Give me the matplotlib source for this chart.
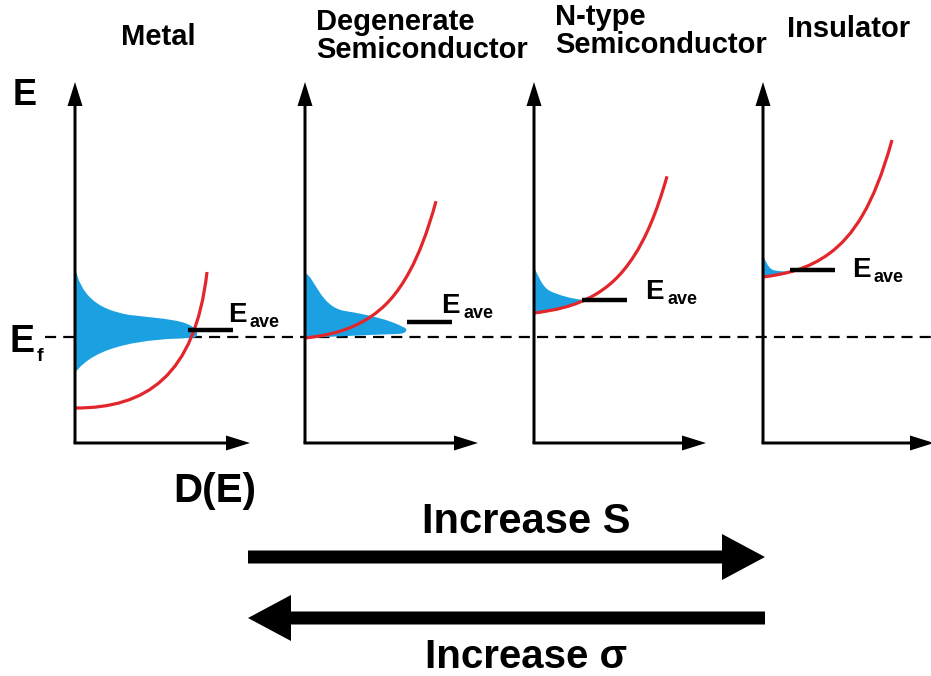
import matplotlib
matplotlib.use('Agg')
import matplotlib.pyplot as plt
from matplotlib.path import Path
from matplotlib.patches import PathPatch

W, H = 931, 676
FONT = 'Liberation Sans'

# ---------------- data (panel-local: D to the right, E upward from Ef) ----------------
titles = ['Metal', 'Degenerate\nSemiconductor', 'N-type\nSemiconductor', 'Insulator']
title_x = [158, 316, 555, 787]
title_ha = ['center', 'left', 'left', 'left']
title_base = [45, 58, 53, 37]

axis_x = [75, 305, 534, 763]          # position of each E axis
xaxis_tip = [250, 478, 706, 934]

# density of states (blue) outlines, cubic Bezier control points
blue_metal = [(0, 69), (6, 45), (18, 28), (55, 22), (90, 18), (112, 17), (120, 8),
              (124, 3), (122, -1), (117, -1), (70, -2), (20, -8), (0, -36)]
blue_degen = [(0, 64), (10, 60), (15, 30), (40, 26), (65, 22), (85, 17), (98, 10),
              (104, 8), (102, 3), (92, 3), (60, 2), (20, 0), (0, -1)]
blue_ntype = [(0, 70), (4, 62), (8, 50), (16, 46), (24, 42), (38, 38), (50, 37),
              (30, 30), (12, 24), (0, 23)]
blue_insul = [(0, 82), (2, 77), (5, 69), (10, 67), (16, 65.5), (22, 65.5), (28, 65.5),
              (15, 62), (5, 60), (0, 59)]
blue_shapes = [blue_metal, blue_degen, blue_ntype, blue_insul]

# band (red) curves, cubic Bezier control points
red_metal = [(1, -71), (70, -71), (120, -40), (132, 65)]
red_degen = [(0, -1), (21.7, 1.6), (43.3, 5.5), (65, 19.8), (78.3, 28.6), (91.7, 41.4),
             (105, 66.4), (113.7, 82.6), (122.3, 103.9), (131, 135.8)]
red_ntype = [(0, 24), (20, 26.6), (40, 30.3), (60, 41.7), (73.3, 49.3), (86.7, 60.3),
             (100, 81), (111, 98.1), (122, 121.8), (133, 160.7)]
red_insul = [(0, 60), (22.3, 63.0), (44.7, 67.4), (67, 84), (78, 92.2), (89, 103.6),
             (100, 122.6), (109.7, 139.3), (119.3, 162), (129, 197)]
red_curves = [red_metal, red_degen, red_ntype, red_insul]

# average energy marks: (D start, D end, E)
eave_marks = [(113, 158, 7), (102, 147, 15), (48, 93, 37), (27, 72, 67)]
eave_label_x = [228, 441, 645, 852]
eave_label_base = [322, 313, 299, 277]

EF_Y = 337           # pixel row of the Fermi level
AXIS_BOTTOM = 443
AXIS_TOP = 82

BLUE = '#1BA1E2'
RED = '#E3262B'

fig = plt.figure(figsize=(W / 100, H / 100), dpi=100)
ax = fig.add_axes([0, 0, 1, 1])
ax.set_xlim(0, W)
ax.set_ylim(H, 0)
ax.axis('off')


def to_px(pts, x0):
    return [(x0 + d, EF_Y - e) for d, e in pts]


def bezier_codes(n, closed=False):
    codes = [Path.MOVETO] + [Path.CURVE4] * (n - 1)
    if closed:
        codes += [Path.CLOSEPOLY]
    return codes


# Fermi level
ax.plot([45, W], [EF_Y, EF_Y], color='black', lw=1.6, ls=(0, (5, 3.2)), zorder=1)

for i in range(4):
    x0 = axis_x[i]
    # blue DOS
    pts = to_px(blue_shapes[i], x0)
    verts = pts + [pts[0]]
    path = Path(verts, bezier_codes(len(pts), closed=True))
    ax.add_patch(PathPatch(path, facecolor=BLUE, edgecolor='none', zorder=2))
    # red band
    rp = to_px(red_curves[i], x0)
    ax.add_patch(PathPatch(Path(rp, bezier_codes(len(rp))), facecolor='none',
                           edgecolor=RED, lw=2.3, zorder=3, capstyle='butt'))
    # axes arrows
    ax.arrow(x0, AXIS_BOTTOM, 0, AXIS_TOP - AXIS_BOTTOM, width=3, head_width=15,
             head_length=24, length_includes_head=True, fc='black', ec='none', zorder=4)
    ax.arrow(x0 - 1.5, AXIS_BOTTOM, xaxis_tip[i] - x0 + 1.5, 0, width=3, head_width=15,
             head_length=24, length_includes_head=True, fc='black', ec='none', zorder=4)
    # Eave mark
    d0, d1, e = eave_marks[i]
    ax.plot([x0 + d0, x0 + d1], [EF_Y - e, EF_Y - e], color='black', lw=3.2,
            solid_capstyle='butt', zorder=5)
    ax.text(eave_label_x[i], eave_label_base[i], 'E', fontsize=20, fontweight='bold',
            family=FONT, ha='left', va='baseline')
    ax.text(eave_label_x[i] + 22, eave_label_base[i] + 5, 'ave', fontsize=13,
            fontweight='bold', family=FONT, ha='left', va='baseline')
    # title
    lines = titles[i].split('\n')
    for k, ln in enumerate(lines):
        yb = title_base[i] - (len(lines) - 1 - k) * 28
        ax.text(title_x[i], yb, ln, fontsize=21, fontweight='bold', family=FONT,
                ha=title_ha[i], va='baseline')

# axis labels
ax.text(13, 105, 'E', fontsize=26, fontweight='bold', family=FONT, ha='left', va='baseline')
ax.text(9, 352, 'E', fontsize=27, fontweight='bold', family=FONT, ha='left', va='baseline')
ax.text(37, 361, 'f', fontsize=14, fontweight='bold', family=FONT, ha='left', va='baseline')
ax.text(215, 502, 'D(E)', fontsize=29, fontweight='bold', family=FONT, ha='center', va='baseline')

# trend arrows
ax.text(526, 533, 'Increase S', fontsize=30, fontweight='bold', family=FONT,
        ha='center', va='baseline')
ax.arrow(248, 557, 517, 0, width=13, head_width=46, head_length=43,
         length_includes_head=True, fc='black', ec='none')
ax.arrow(765, 618, -517, 0, width=13, head_width=46, head_length=43,
         length_includes_head=True, fc='black', ec='none')
ax.text(526, 668, 'Increase σ', fontsize=29, fontweight='bold', family=FONT,
        ha='center', va='baseline')

fig.savefig('out.png', dpi=100)
